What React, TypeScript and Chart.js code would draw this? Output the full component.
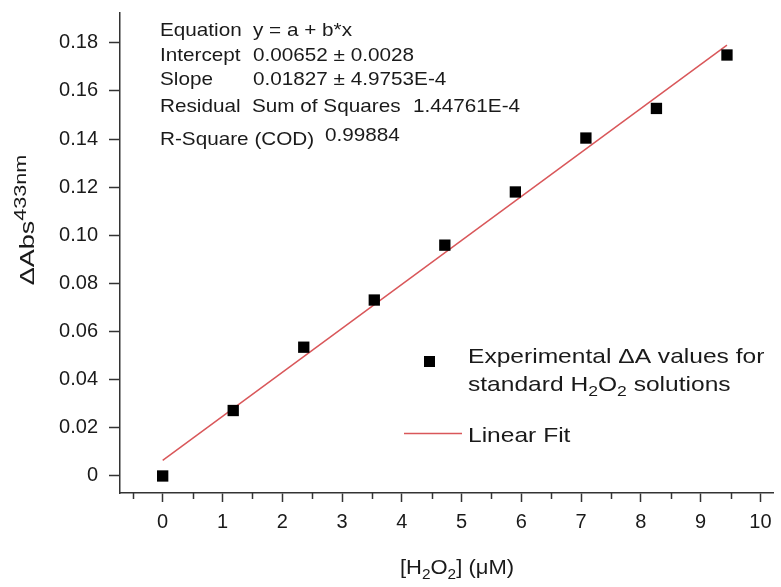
import React, { useEffect, useRef } from 'react';
import { Chart, registerables } from 'chart.js';

Chart.register(...registerables);

// ---- data ----
const concentrations = [0, 1.18, 2.36, 3.54, 4.72, 5.9, 7.08, 8.26, 9.44];
const deltaAbs = [0.0, 0.0272, 0.0535, 0.0731, 0.0959, 0.118, 0.1404, 0.1527, 0.1749];
const fitX = [0, 9.44];
const fitY = [0.00652, 0.17899];
const xMinorTicks = [-0.5, 0.5, 1.5, 2.5, 3.5, 4.5, 5.5, 6.5, 7.5, 8.5, 9.5];
const annotationLabels = ['Equation', 'Intercept', 'Slope', 'Residual', 'R-Square (COD)'];
const annotationValues = ['y = a + b*x', '0.00652 \u00b1 0.0028', '0.01827 \u00b1 4.9753E-4', 'Sum of Squares', '0.99884'];
const rssValue = '1.44761E-4';

const FONT = '"Liberation Sans", Arial, sans-serif';
const TEXT = '#1a1a1a';
const AXIS = '#333333';
const RED = '#d9575a';

type Seg = { t: string; size: number; dy: number };

function drawSegs(ctx: CanvasRenderingContext2D, segs: Seg[], x: number, y: number, sx: number, align: 'left' | 'center') {
  ctx.save();
  ctx.textBaseline = 'alphabetic';
  ctx.textAlign = 'left';
  let total = 0;
  for (const s of segs) {
    ctx.font = `${s.size}px ${FONT}`;
    total += ctx.measureText(s.t).width * sx;
  }
  let cx = align === 'center' ? x - total / 2 : x;
  for (const s of segs) {
    ctx.font = `${s.size}px ${FONT}`;
    const w = ctx.measureText(s.t).width;
    ctx.save();
    ctx.translate(cx, y + s.dy);
    ctx.scale(sx, 1);
    ctx.fillText(s.t, 0, 0);
    ctx.restore();
    cx += w * sx;
  }
  ctx.restore();
}

function drawText(ctx: CanvasRenderingContext2D, t: string, x: number, y: number, size: number, sx: number) {
  drawSegs(ctx, [{ t, size, dy: 0 }], x, y, sx, 'left');
}

const decorPlugin = {
  id: 'decor',
  afterDraw(chart: any) {
    const ctx: CanvasRenderingContext2D = chart.ctx;
    const xs = chart.scales.x;
    const area = chart.chartArea;
    ctx.save();
    // minor x ticks
    ctx.strokeStyle = AXIS;
    ctx.lineWidth = 1.5;
    for (const v of xMinorTicks) {
      const px = Math.round(xs.getPixelForValue(v)) + 0.5;
      ctx.beginPath();
      ctx.moveTo(px, area.bottom);
      ctx.lineTo(px, area.bottom + 6);
      ctx.stroke();
    }
    ctx.fillStyle = TEXT;

    // annotation box
    const rowsY = [36, 61, 85, 112, 145];
    const aSize = 19;
    const aSx = 1.09;
    for (let i = 0; i < annotationLabels.length; i++) {
      drawText(ctx, annotationLabels[i], 160, rowsY[i], aSize, aSx);
    }
    drawText(ctx, annotationValues[0], 253, rowsY[0], aSize, aSx);
    drawText(ctx, annotationValues[1], 253, rowsY[1], aSize, aSx);
    drawText(ctx, annotationValues[2], 253, rowsY[2], aSize, aSx);
    drawText(ctx, annotationValues[3], 252, rowsY[3], aSize, aSx);
    drawText(ctx, rssValue, 413, rowsY[3], aSize, aSx);
    drawText(ctx, annotationValues[4], 325, rowsY[4] - 4, aSize, aSx);

    // legend
    const lSize = 21;
    const lSx = 1.17;
    ctx.fillStyle = '#000';
    ctx.fillRect(424, 356, 11, 11);
    ctx.fillStyle = TEXT;
    drawText(ctx, 'Experimental \u0394A values for', 468, 363, lSize, lSx);
    drawSegs(ctx, [
      { t: 'standard H', size: lSize, dy: 0 },
      { t: '2', size: 15, dy: 5 },
      { t: 'O', size: lSize, dy: 0 },
      { t: '2', size: 15, dy: 5 },
      { t: ' solutions', size: lSize, dy: 0 },
    ], 468, 391, lSx, 'left');
    ctx.strokeStyle = RED;
    ctx.lineWidth = 1.5;
    ctx.beginPath();
    ctx.moveTo(404, 433.5);
    ctx.lineTo(462, 433.5);
    ctx.stroke();
    drawText(ctx, 'Linear Fit', 468, 442, lSize, lSx);

    // x title
    drawSegs(ctx, [
      { t: '[H', size: 20, dy: 0 },
      { t: '2', size: 14, dy: 5 },
      { t: 'O', size: 20, dy: 0 },
      { t: '2', size: 14, dy: 5 },
      { t: '] (\u03bcM)', size: 20, dy: 0 },
    ], 457, 574, 1.1, 'center');

    // y title
    ctx.save();
    ctx.translate(34, 220);
    ctx.rotate(-Math.PI / 2);
    drawSegs(ctx, [
      { t: '\u0394Abs', size: 20, dy: 0 },
      { t: '433nm', size: 16, dy: -8 },
    ], 0, 0, 1.35, 'center');
    ctx.restore();
    ctx.restore();
  },
};

export default function App() {
  const ref = useRef<HTMLCanvasElement | null>(null);
  useEffect(() => {
    if (!ref.current) return;
    const chart = new Chart(ref.current, {
      type: 'scatter',
      data: {
        datasets: [
          {
            label: 'Experimental',
            data: concentrations.map((x, i) => ({ x, y: deltaAbs[i] })),
            pointStyle: 'rect',
            pointRadius: 8,
            backgroundColor: '#000',
            borderColor: '#000',
            borderWidth: 0,
            showLine: false,
          },
          {
            label: 'Linear Fit',
            data: fitX.map((x, i) => ({ x, y: fitY[i] })),
            showLine: true,
            pointRadius: 0,
            borderColor: RED,
            borderWidth: 1.5,
            fill: false,
          },
        ],
      },
      options: {
        responsive: false,
        animation: false,
        events: [],
        layout: { padding: { left: 0, right: 6, top: 13, bottom: 0 } },
        plugins: { legend: { display: false }, tooltip: { enabled: false } },
        scales: {
          x: {
            type: 'linear',
            min: -0.714,
            max: 10.21,
            afterFit: (s: any) => { s.height = 94; s.paddingLeft = 0; s.paddingRight = 0; },
            ticks: {
              stepSize: 1,
              includeBounds: false,
              padding: 8,
              color: TEXT,
              font: { family: FONT, size: 20 },
              maxRotation: 0,
              callback: (v: any) => String(Math.round(Number(v))),
            },
            grid: { drawOnChartArea: false, tickLength: 9, tickColor: AXIS, tickWidth: 1.5 },
            border: { display: true, color: AXIS, width: 1.5 },
          },
          y: {
            type: 'linear',
            min: -0.00707,
            max: 0.19235,
            afterFit: (s: any) => { s.width = 120; s.paddingTop = 0; s.paddingBottom = 0; },
            ticks: {
              stepSize: 0.02,
              includeBounds: false,
              padding: 11,
              color: TEXT,
              font: { family: FONT, size: 20 },
              callback: (v: any) => {
                const n = Math.round(Number(v) * 100) / 100;
                return n === 0 ? '0' : n.toFixed(2);
              },
            },
            grid: { drawOnChartArea: false, tickLength: 11, tickColor: AXIS, tickWidth: 1.5 },
            border: { display: true, color: AXIS, width: 1.5 },
          },
        },
      },
      plugins: [decorPlugin],
    } as any);
    return () => chart.destroy();
  }, []);
  return (
    <div style={{ position: 'fixed', left: 0, top: 0, width: 781, height: 587, background: '#fff' }}>
      <canvas ref={ref} width={781} height={587} style={{ display: 'block' }} />
    </div>
  );
}
